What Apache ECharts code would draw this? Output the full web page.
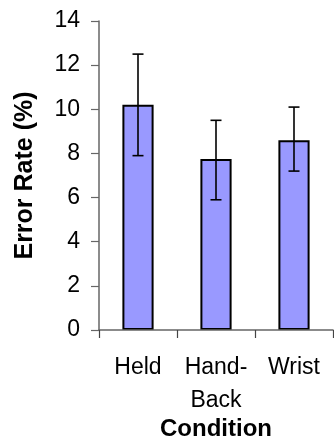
<!DOCTYPE html>
<html><head><meta charset="utf-8">
<script src="https://cdn.jsdelivr.net/npm/echarts@6/dist/echarts.min.js"></script>
<style>html,body{margin:0;padding:0;background:#fff}#c{width:334px;height:441px}</style>
</head><body><div id="c"></div>
<script>
var categories = ['Held', 'Hand-\nBack', 'Wrist'];
var errorRate = [10.2, 7.75, 8.6];
var errLow = [7.9, 5.9, 7.2];
var errHigh = [12.5, 9.5, 10.1];
var yTicks = [0, 2, 4, 6, 8, 10, 12, 14];

var chart = echarts.init(document.getElementById('c'), null, {renderer: 'canvas'});
var font = 'Liberation Sans, Arial, sans-serif';
chart.setOption({
  animation: false,
  grid: {left: 99, right: 1, top: 21, bottom: 111, containLabel: false, outerBoundsMode: 'none'},
  xAxis: {
    type: 'category', data: categories, z: 5,
    name: 'Condition', nameLocation: 'middle', nameGap: 87, nameMoveOverlap: false,
    nameTextStyle: {fontFamily: font, fontSize: 24, fontWeight: 'bold', color: '#000'},
    axisLine: {lineStyle: {color: '#666', width: 1.5}},
    axisTick: {show: true, length: 8, lineStyle: {color: '#444', width: 1.2}},
    axisLabel: {fontFamily: font, fontSize: 23, color: '#000', margin: 21, lineHeight: 33, interval: 0}
  },
  yAxis: {
    type: 'value', min: yTicks[0], max: yTicks[yTicks.length - 1], interval: 2,
    name: 'Error Rate (%)', nameLocation: 'middle', nameGap: 61, nameMoveOverlap: false,
    nameTextStyle: {fontFamily: font, fontSize: 25, fontWeight: 'bold', color: '#000'},
    splitLine: {show: false},
    axisLine: {show: true, lineStyle: {color: '#666', width: 1.5}},
    axisTick: {show: true, length: 8, lineStyle: {color: '#666', width: 1.2}},
    axisLabel: {fontFamily: font, fontSize: 23, color: '#000', margin: 19}
  },
  series: [{
    type: 'bar', data: errorRate, barWidth: '40%',
    itemStyle: {color: '#9999FF', borderColor: '#000', borderWidth: 2}
  }, {
    type: 'custom', z: 10,
    data: categories.map(function (c, i) { return [i, errLow[i], errHigh[i]]; }),
    renderItem: function (params, api) {
      var x = api.value(0);
      var lo = api.coord([x, api.value(1)]);
      var hi = api.coord([x, api.value(2)]);
      var hw = 5.5;
      var st = {stroke: '#000', lineWidth: 1.6};
      return {type: 'group', children: [
        {type: 'line', shape: {x1: lo[0], y1: lo[1], x2: hi[0], y2: hi[1]}, style: st},
        {type: 'line', shape: {x1: lo[0] - hw, y1: lo[1], x2: lo[0] + hw, y2: lo[1]}, style: st},
        {type: 'line', shape: {x1: hi[0] - hw, y1: hi[1], x2: hi[0] + hw, y2: hi[1]}, style: st}
      ]};
    }
  }]
});
</script></body></html>
